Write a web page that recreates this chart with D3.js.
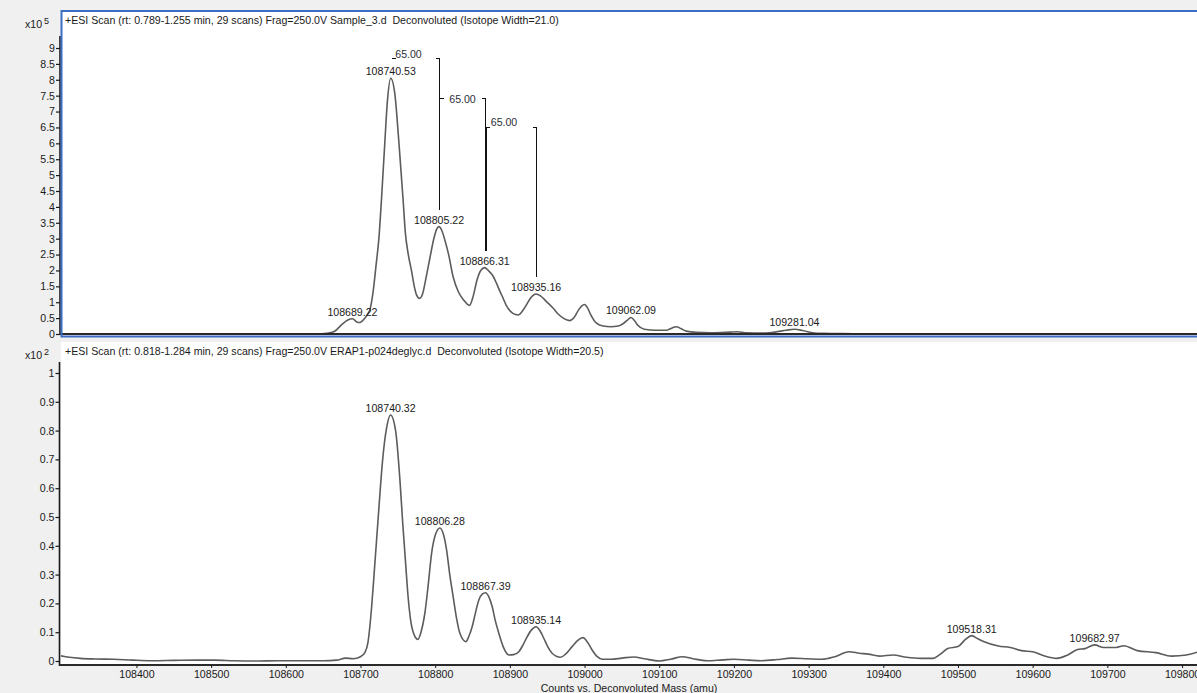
<!DOCTYPE html>
<html>
<head>
<meta charset="utf-8">
<script src="https://cdn.jsdelivr.net/npm/d3@7"></script>
<style>
  html, body { margin: 0; padding: 0; background: #f0f0f0; }
  svg { display: block; font-family: "Liberation Sans", Arial, sans-serif; }
</style>
</head>
<body>
<svg id="chart" width="1197" height="693"></svg>
<script>
// ---- Tick labels ----
const massTicks = [108400, 108500, 108600, 108700, 108800, 108900, 109000,
                   109100, 109200, 109300, 109400, 109500, 109600, 109700, 109800];
const topCountTicks = [0, 0.5, 1, 1.5, 2, 2.5, 3, 3.5, 4, 4.5, 5, 5.5, 6, 6.5, 7, 7.5, 8, 8.5, 9];
const bottomCountTicks = [0, 0.1, 0.2, 0.3, 0.4, 0.5, 0.6, 0.7, 0.8, 0.9, 1];

// ---- Upper spectrum: Sample_3.d (counts x10^5) ----
const topMass = [
  108299, 108350, 108400, 108500, 108600, 108640, 108655, 108665, 108676, 108683,
  108689.22, 108695, 108699, 108704, 108709, 108713, 108717, 108721, 108724.6, 108728,
  108732.5, 108736.1, 108740.53, 108745.9, 108751.2, 108757.1, 108760, 108764, 108768.2, 108772,
  108775, 108779, 108783, 108788, 108793, 108798, 108802, 108805.22, 108809, 108813,
  108818, 108824, 108831, 108838, 108846, 108851, 108856, 108861, 108866.31, 108871,
  108877, 108882, 108886, 108891, 108895, 108904, 108911, 108918, 108923, 108928,
  108935.16, 108941, 108949, 108958, 108965, 108972, 108980, 108986, 108992, 108996,
  109000, 109004, 109008, 109016, 109025, 109035, 109045, 109052, 109057, 109062.09,
  109067, 109071, 109080, 109095, 109110, 109118, 109123, 109129, 109136, 109150,
  109170, 109195, 109205, 109215, 109240, 109255, 109270, 109281.04, 109292, 109305,
  109320, 109360, 109400, 109500, 109600, 109700, 109760, 109822
];
const topCounts = [
  0.01, 0.0, 0.0, 0.0, 0.0, 0.0, 0.02, 0.08, 0.32, 0.44,
  0.48, 0.38, 0.36, 0.45, 0.6, 0.8, 1.35, 2.2, 3.0, 4.2,
  6.0, 7.35, 8.05, 7.57, 6.1, 4.2, 3.2, 2.5, 2.0, 1.5,
  1.23, 1.12, 1.25, 1.8, 2.4, 2.98, 3.3, 3.38, 3.25, 2.95,
  2.5, 1.8, 1.33, 1.07, 0.9, 1.2, 1.7, 2.0, 2.09, 2.0,
  1.84, 1.6, 1.38, 1.12, 0.91, 0.65, 0.6, 0.76, 0.95, 1.14,
  1.26, 1.2, 1.02, 0.81, 0.62, 0.49, 0.42, 0.52, 0.76, 0.88,
  0.93, 0.82, 0.62, 0.34, 0.25, 0.23, 0.25, 0.33, 0.43, 0.52,
  0.42, 0.28, 0.15, 0.12, 0.12, 0.2, 0.23, 0.17, 0.09, 0.05,
  0.04, 0.06, 0.07, 0.04, 0.03, 0.06, 0.12, 0.15, 0.11, 0.04,
  0.02, 0.01, 0.0, 0.0, 0.0, 0.0, 0.01, 0.0
];
const topPeaks = [108689.22, 108740.53, 108805.22, 108866.31, 108935.16, 109062.09, 109281.04];

// Mass-difference brackets on the upper spectrum
const diffFrom  = [108740.53, 108805.22, 108866.31];
const diffTo    = [108805.22, 108866.31, 108935.16];
const diffLevel = [8.70, 7.42, 6.50];
const diffText  = ["65.00", "65.00", "65.00"];

// ---- Lower spectrum: ERAP1-p024deglyc.d (counts x10^2) ----
const bottomMass = [
  108299, 108310, 108325, 108345, 108370, 108395, 108420, 108450, 108480, 108505,
  108530, 108560, 108590, 108620, 108650, 108668, 108680, 108690, 108700, 108706,
  108710, 108715, 108719, 108722.5, 108726, 108729.2, 108735, 108740.32, 108747, 108752.8,
  108756.5, 108760.4, 108763.5, 108767.1, 108772, 108776.9, 108781, 108786.2, 108790.5, 108795.2,
  108800.5, 108806.28, 108811, 108815.3, 108819.5, 108824.1, 108828.5, 108833.1, 108841.1, 108845,
  108849.5, 108854, 108858.4, 108863, 108867.39, 108872, 108876.2, 108880.5, 108885.2, 108891,
  108898.6, 108905, 108912, 108918, 108923.1, 108929, 108935.14, 108940.5, 108945.4, 108951,
  108956.5, 108967.8, 108975, 108983.4, 108991, 108998, 109004, 109010.1, 109017, 109023.5,
  109035, 109050, 109066, 109080, 109100, 109115, 109131, 109145, 109164, 109185,
  109200, 109220, 109236, 109258, 109277, 109298, 109318, 109335, 109354, 109368,
  109380, 109395, 109413, 109431, 109450, 109467, 109475, 109487, 109500, 109510,
  109518.31, 109526, 109535, 109554, 109570, 109585, 109600, 109616, 109632, 109647,
  109660, 109670, 109682.97, 109695, 109712, 109722, 109740, 109765, 109786, 109806,
  109822
];
const bottomCounts = [
  0.018, 0.013, 0.009, 0.007, 0.006, 0.003, 0.001, 0.002, 0.003, 0.003,
  0.001, 0.0, 0.001, 0.001, 0.001, 0.003, 0.01, 0.008, 0.015, 0.03,
  0.065, 0.19, 0.33, 0.455, 0.58, 0.686, 0.81, 0.854, 0.80, 0.628,
  0.48, 0.34, 0.23, 0.142, 0.09, 0.075, 0.1, 0.166, 0.26, 0.374,
  0.44, 0.462, 0.44, 0.385, 0.3, 0.223, 0.15, 0.096, 0.067, 0.085,
  0.119, 0.168, 0.212, 0.232, 0.237, 0.222, 0.19, 0.14, 0.096, 0.05,
  0.021, 0.022, 0.032, 0.058, 0.084, 0.108, 0.119, 0.104, 0.079, 0.048,
  0.027, 0.013, 0.025, 0.05, 0.072, 0.081, 0.065, 0.038, 0.015, 0.006,
  0.006, 0.01, 0.014, 0.008, 0.0, 0.006, 0.015, 0.008, 0.001, 0.004,
  0.006, 0.003, 0.001, 0.005, 0.01, 0.008, 0.006, 0.015, 0.032, 0.027,
  0.024, 0.017, 0.021, 0.013, 0.009, 0.009, 0.021, 0.044, 0.05, 0.075,
  0.088, 0.078, 0.067, 0.052, 0.047, 0.036, 0.032, 0.017, 0.009, 0.021,
  0.04, 0.043, 0.056, 0.047, 0.047, 0.053, 0.036, 0.029, 0.017, 0.021,
  0.032
];
const bottomPeaks = [108740.32, 108806.28, 108867.39, 108935.14, 109518.31, 109682.97];

// ---- Layout ----
const FONT = 10.6;
const INK = "#1a1a1a";
const TRACE = "#5c5c5c";
const FRAME_BLUE = "#3b6ec3";
const plotLeft = 61, plotRight = 1197;

const svg = d3.select("#chart");
const x = d3.scaleLinear().domain([108299, 109820]).range([plotLeft, plotRight]);

const defs = svg.append("defs");

function drawPanel(opts) {
  const { top, bottom, axisY, y, ticks, mass, counts, peaks, header, exponent,
          axisLeftX, axisTopY, selected, id } = opts;
  const g = svg.append("g");

  // white plotting area
  g.append("rect")
    .attr("x", plotLeft).attr("y", top)
    .attr("width", plotRight - plotLeft + 4).attr("height", bottom - top)
    .attr("fill", "#ffffff");

  // header line
  g.append("text")
    .attr("x", plotLeft + 4).attr("y", top + 13)
    .attr("font-size", FONT).attr("fill", INK)
    .text(header);

  // exponent label
  const ex = g.append("text")
    .attr("x", 25).attr("y", top + 17)
    .attr("font-size", FONT).attr("fill", INK);
  ex.append("tspan").text("x10");
  ex.append("tspan").attr("dx", 2).attr("dy", -4).attr("font-size", 9).text(exponent);

  // clipped trace
  defs.append("clipPath").attr("id", id)
    .append("rect").attr("x", plotLeft).attr("y", top)
    .attr("width", plotRight - plotLeft).attr("height", axisY - top);

  const pts = mass.map((m, i) => [m, counts[i]]);
  const line = d3.line()
    .x(d => x(d[0]))
    .y(d => y(d[1]))
    .curve(d3.curveMonotoneX);

  g.append("path")
    .attr("clip-path", `url(#${id})`)
    .attr("d", line(pts))
    .attr("fill", "none")
    .attr("stroke", TRACE)
    .attr("stroke-width", 1.6)
    .attr("stroke-linejoin", "round");

  // peak annotations
  peaks.forEach(p => {
    const v = counts[mass.indexOf(p)];
    g.append("text")
      .attr("x", x(p)).attr("y", y(v) - 3)
      .attr("text-anchor", "middle")
      .attr("font-size", FONT).attr("fill", INK)
      .text(p.toFixed(2));
  });

  // y axis
  const yAxis = d3.axisLeft(y).tickValues(ticks).tickSize(4).tickPadding(1)
    .tickFormat(d3.format("~g"));
  const ya = g.append("g").attr("transform", `translate(${axisLeftX},0)`).call(yAxis);
  ya.select(".domain").remove();
  ya.selectAll("line").attr("stroke", INK).attr("stroke-width", 1.2);
  ya.selectAll("text").attr("font-size", FONT).attr("fill", INK)
    .attr("font-family", "Liberation Sans, Arial, sans-serif");
  g.append("line")
    .attr("x1", axisLeftX).attr("x2", axisLeftX)
    .attr("y1", axisTopY).attr("y2", axisY + 1)
    .attr("stroke", INK).attr("stroke-width", 1.6);

  // x axis baseline
  g.append("line")
    .attr("x1", axisLeftX).attr("x2", plotRight)
    .attr("y1", axisY).attr("y2", axisY)
    .attr("stroke", "#2a2a2a").attr("stroke-width", 2);

  if (selected) {
    g.append("rect")
      .attr("x", plotLeft + 0.5).attr("y", top)
      .attr("width", plotRight - plotLeft + 10).attr("height", bottom - top)
      .attr("fill", "none").attr("stroke", FRAME_BLUE).attr("stroke-width", 2);
  }
  return g;
}

// ---- Upper panel ----
const yTop = d3.scaleLinear().domain([0, 9]).range([334, 48]);
const gTop = drawPanel({
  id: "clipTop", top: 11, bottom: 336.5, axisY: 334, y: yTop,
  ticks: topCountTicks, mass: topMass, counts: topCounts, peaks: topPeaks,
  header: "+ESI Scan (rt: 0.789-1.255 min, 29 scans) Frag=250.0V Sample_3.d\u00a0\u00a0Deconvoluted (Isotope Width=21.0)",
  exponent: "5", axisLeftX: 60, axisTopY: 36, selected: true
});

// mass-difference brackets: horizontal bar, stems down to the peak labels
const diffShift = [[-7, -5], [0, 0], [-7, -5.5]];
const leftStemOffset = [null, null, 1];
const apexTop = m => yTop(topCounts[topMass.indexOf(m)]);
const bracketG = gTop.append("g").attr("shape-rendering", "crispEdges");
const STEM = "#111";
diffFrom.forEach((m0, i) => {
  const m1 = diffTo[i];
  const x0 = Math.round(x(m0)) + 0.5, x1 = Math.round(x(m1)) + 0.5;
  const yl = Math.round(yTop(diffLevel[i])) + 0.5;
  const mid = (x0 + x1) / 2;
  bracketG.append("line").attr("x1", x0).attr("x2", x1).attr("y1", yl).attr("y2", yl)
    .attr("stroke", STEM).attr("stroke-width", 1);
  bracketG.append("line").attr("x1", x1).attr("x2", x1)
    .attr("y1", yl).attr("y2", Math.round(apexTop(m1) - 17))
    .attr("stroke", STEM).attr("stroke-width", 1);
  if (leftStemOffset[i] !== null) {
    const xs = x0 + leftStemOffset[i];
    bracketG.append("line").attr("x1", xs).attr("x2", xs)
      .attr("y1", yl).attr("y2", Math.round(apexTop(m0) - 17))
      .attr("stroke", STEM).attr("stroke-width", 1);
  }
  const t = bracketG.append("text")
    .attr("x", mid + diffShift[i][0]).attr("y", yl + diffShift[i][1] + 4)
    .attr("text-anchor", "middle")
    .attr("shape-rendering", "auto")
    .attr("font-size", FONT).attr("fill", "#2b2f38")
    .text(diffText[i]);
  const bb = t.node().getBBox();
  bracketG.insert("rect", () => t.node())
    .attr("x", mid - (x1 - x0) / 2 + 4).attr("y", bb.y - 1)
    .attr("width", Math.max(0, (x1 - x0) - 8)).attr("height", Math.max(bb.height + 2, yl - bb.y + 1))
    .attr("fill", "#ffffff");
});

// ---- Lower panel ----
const yBot = d3.scaleLinear().domain([0, 1]).range([661, 373]);
const gBot = drawPanel({
  id: "clipBot", top: 342, bottom: 665, axisY: 665, y: yBot,
  ticks: bottomCountTicks, mass: bottomMass, counts: bottomCounts, peaks: bottomPeaks,
  header: "+ESI Scan (rt: 0.818-1.284 min, 29 scans) Frag=250.0V ERAP1-p024deglyc.d\u00a0\u00a0Deconvoluted (Isotope Width=20.5)",
  exponent: "2", axisLeftX: 59.5, axisTopY: 362, selected: false
});

// mass axis with labels
const xAxis = d3.axisBottom(x).tickValues(massTicks).tickSize(3).tickPadding(2)
  .tickFormat(d3.format("d"));
const xa = svg.append("g").attr("transform", "translate(0,665)").call(xAxis);
xa.select(".domain").remove();
xa.selectAll("line").attr("stroke", INK);
xa.selectAll("text").attr("font-size", FONT).attr("fill", INK)
  .attr("font-family", "Liberation Sans, Arial, sans-serif");

svg.append("text")
  .attr("x", (plotLeft + plotRight) / 2).attr("y", 692)
  .attr("text-anchor", "middle")
  .attr("font-size", FONT).attr("fill", INK)
  .text("Counts vs. Deconvoluted Mass (amu)");
</script>
</body>
</html>
